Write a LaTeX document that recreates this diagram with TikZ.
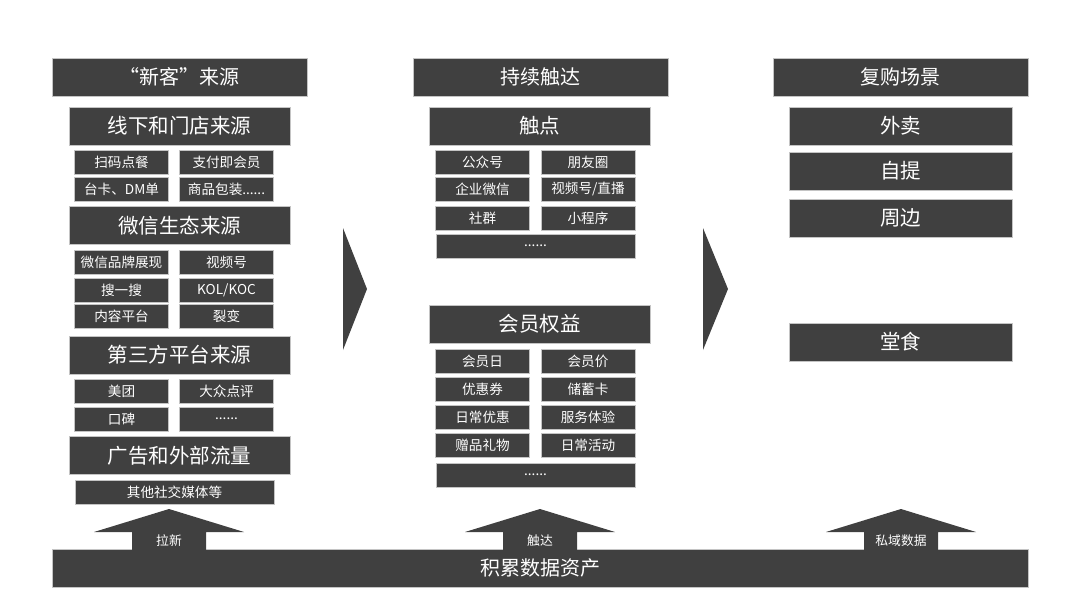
\documentclass[tikz,border=0pt]{standalone}
\usepackage{fontspec}
\newfontfamily\cjk{Noto Sans CJK SC}
\definecolor{boxgray}{HTML}{404040}
\definecolor{rimgray}{HTML}{C4C4C4}

\begin{document}
\begin{tikzpicture}[x=1pt, y=-1pt,
    tile/.style={fill=boxgray, draw=rimgray, line width=0.7pt, text=white, inner sep=0pt},
    headbox/.style={tile, minimum width=255pt, minimum height=38pt, font=\cjk\fontsize{20}{20}\selectfont},
    partbox/.style={tile, minimum width=221pt, minimum height=38pt, font=\cjk\fontsize{20.5}{20.5}\selectfont},
    itembox/.style={tile, minimum width=94pt, minimum height=24pt, font=\cjk\fontsize{13.6}{13.6}\selectfont},
    rowbox/.style={itembox, minimum width=199pt},
    flagtext/.style={text=white, font=\cjk\fontsize{12.8}{12.8}\selectfont}]
    \useasboundingbox (0,0) rectangle (1080,608);

    % new customers
    \node[headbox] (newhead) at (179.5,77) {“新客”来源};
    \node[partbox] (offline) at (179.5,126) {线下和门店来源};
    \node[itembox] (scan) at (121.5,162) {扫码点餐};
    \node[itembox] (paymem) at (226.5,162) {支付即会员};
    \node[itembox] (tablecard) at (121.5,189) {台卡、DM单};
    \node[itembox] (package) at (226.5,189) {商品包装......};
    \node[partbox] (wechat) at (179.5,225.5) {微信生态来源};
    \node[itembox] (brand) at (121.5,262) {微信品牌展现};
    \node[itembox] (channels) at (226.5,262) {视频号};
    \node[itembox] (search) at (121.5,290) {搜一搜};
    \node[itembox] (kol) at (226.5,290) {KOL/KOC};
    \node[itembox] (content) at (121.5,316) {内容平台};
    \node[itembox] (fission) at (226.5,316) {裂变};
    \node[partbox] (thirdparty) at (179.5,355) {第三方平台来源};
    \node[itembox] (meituan) at (121.5,391) {美团};
    \node[itembox] (dianping) at (226.5,391) {大众点评};
    \node[itembox] (koubei) at (121.5,419) {口碑};
    \node[itembox] (moresrc) at (226.5,419) {......};
    \node[partbox] (ads) at (179.5,455.5) {广告和外部流量};
    \node[rowbox] (social) at (174.5,492) {其他社交媒体等};

    % keep reaching
    \node[headbox] (reachhead) at (540.5,77) {持续触达};
    \node[partbox] (touch) at (539.5,126) {触点};
    \node[itembox] (official) at (482.5,162) {公众号};
    \node[itembox] (moments) at (588,162) {朋友圈};
    \node[itembox] (wework) at (482.5,189) {企业微信};
    \node[itembox] (live) at (588,189) {视频号/直播};
    \node[itembox] (groups) at (482.5,218) {社群};
    \node[itembox] (miniapp) at (588,218) {小程序};
    \node[rowbox] (moretouch) at (535.5,246) {......};
    \node[partbox] (perks) at (539.5,324) {会员权益};
    \node[itembox] (memday) at (482.5,361) {会员日};
    \node[itembox] (memprice) at (588,361) {会员价};
    \node[itembox] (coupon) at (482.5,389) {优惠券};
    \node[itembox] (stored) at (588,389) {储蓄卡};
    \node[itembox] (daily) at (482.5,417) {日常优惠};
    \node[itembox] (service) at (588,417) {服务体验};
    \node[itembox] (gifts) at (482.5,445) {赠品礼物};
    \node[itembox] (events) at (588,445) {日常活动};
    \node[rowbox] (moreperks) at (535.5,475) {......};

    % repurchase
    \node[headbox] (rebuyhead) at (900.5,77) {复购场景};
    \node[partbox, minimum width=223pt] (takeout) at (900.5,126) {外卖};
    \node[partbox, minimum width=223pt] (pickup) at (900.5,171) {自提};
    \node[partbox, minimum width=223pt] (nearby) at (900.5,218) {周边};
    \node[partbox, minimum width=223pt] (dinein) at (900.5,342) {堂食};

    % chevrons
    \fill[boxgray] (343,228) -- (367,289) -- (343,350) -- cycle;
    \fill[boxgray] (703,228) -- (728,289) -- (703,350) -- cycle;

    % base bar and up arrows
    \node[tile, minimum width=976pt, minimum height=38pt, font=\cjk\fontsize{20}{20}\selectfont] (assets) at (540,568) {积累数据资产};
    \foreach \ax/\lbl/\nm in {169/拉新/pullnew, 540/触达/reach, 901/私域数据/privdata} {
        \fill[boxgray] (\ax-75,532) -- (\ax,509) -- (\ax+75,532) -- (\ax+37,532)
            -- (\ax+37,549.8) -- (\ax-37,549.8) -- (\ax-37,532) -- cycle;
        \node[flagtext] (\nm) at (\ax,541) {\lbl};
    }
\end{tikzpicture}
\end{document}
